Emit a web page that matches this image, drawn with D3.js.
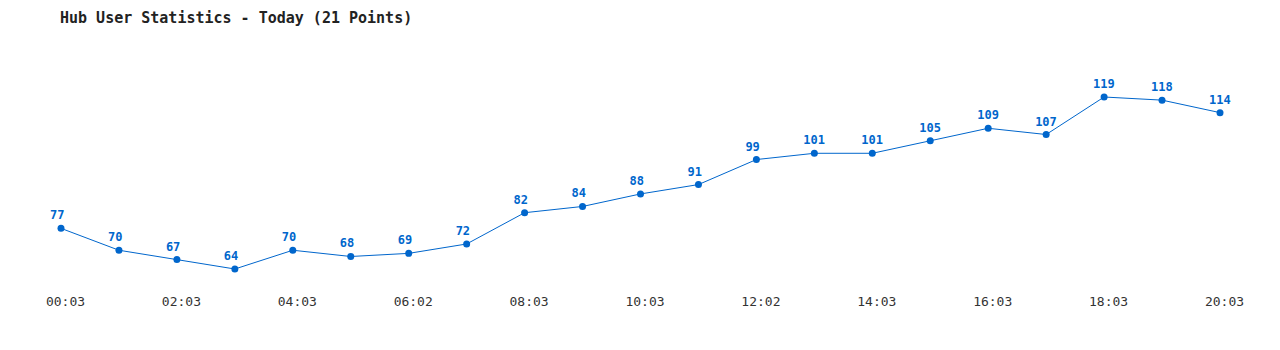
<!DOCTYPE html>
<html>
  <head>
    <meta charset='utf-8' />
    <title>Hub User Statistics</title>
    <script src="https://d3js.org/d3.v7.min.js"></script>
    <style>
body {
  margin: 0;
  background: #fff;
  font-family: "DejaVu Sans Mono", monospace;
}
.title {
  font-size: 15px;
  font-weight: bold;
  fill: #222;
}
.axis text {
  font-family: "DejaVu Sans Mono", monospace;
  font-size: 13px;
  fill: #333;
}
.axis path,
.axis line {
  display: none;
}
.label {
  font-size: 12px;
  font-weight: bold;
  fill: #0066cc;
}
    </style>
  </head>
  <body>
    <div id="graphic"></div>
    <script>
      // times of the 21 samples (only every other one is labelled)
      const times = ["00:03", "01:03", "02:03", "03:03", "04:03", "05:03", "06:02",
                     "07:03", "08:03", "09:03", "10:03", "11:03", "12:02", "13:03",
                     "14:03", "15:03", "16:03", "17:03", "18:03", "19:03", "20:03"];
      const users = [77, 70, 67, 64, 70, 68, 69, 72, 82, 84, 88, 91,
                     99, 101, 101, 105, 109, 107, 119, 118, 114];
      const tickLabels = ["00:03", "02:03", "04:03", "06:02", "08:03", "10:03",
                          "12:02", "14:03", "16:03", "18:03", "20:03"];

      const width = 1280, height = 350;
      const color = "#0066cc";

      const svg = d3.select("#graphic").append("svg")
        .attr("width", width)
        .attr("height", height);

      svg.append("text")
        .attr("class", "title")
        .attr("x", 60)
        .attr("y", 23)
        .text("Hub User Statistics - Today (21 Points)");

      const x = d3.scalePoint()
        .domain(times)
        .range([61, 1220]);

      const y = d3.scaleLinear()
        .domain([d3.min(users), d3.max(users)])
        .range([269, 97]);

      // x axis labels
      const xAxis = svg.append("g")
        .attr("class", "axis")
        .attr("transform", "translate(4,294)")
        .call(d3.axisBottom(x).tickValues(tickLabels).tickSize(0).tickPadding(0));
      xAxis.attr("font-family", null).attr("font-size", null);
      xAxis.selectAll("text")
        .attr("dy", "0.71em")
        .attr("y", 3);

      const pts = times.map((t, i) => ({t: t, v: users[i]}));

      svg.append("path")
        .datum(pts)
        .attr("fill", "none")
        .attr("stroke", color)
        .attr("stroke-width", 1)
        .attr("d", d3.line().x(d => x(d.t)).y(d => y(d.v)));

      svg.append("g")
        .selectAll("circle")
        .data(pts)
        .enter()
        .append("circle")
        .attr("cx", d => x(d.t))
        .attr("cy", d => y(d.v))
        .attr("r", 3.5)
        .attr("fill", color);

      svg.append("g")
        .selectAll("text")
        .data(pts)
        .enter()
        .append("text")
        .attr("class", "label")
        .attr("x", d => x(d.t) - 11)
        .attr("y", d => y(d.v) - 9)
        .text(d => d.v);
    </script>
  </body>
</html>
